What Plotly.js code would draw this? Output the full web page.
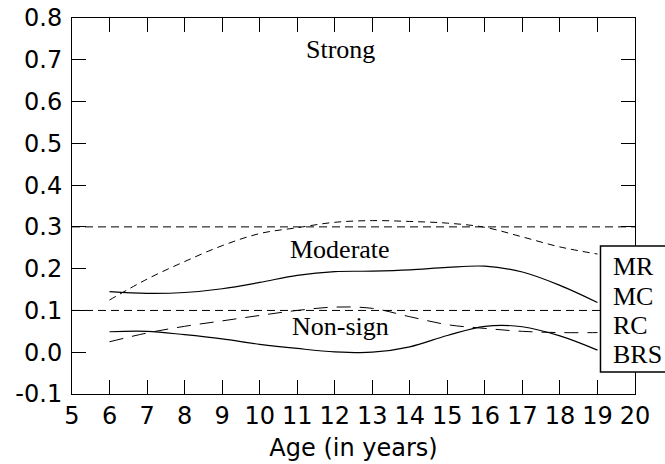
<!DOCTYPE html>
<html>
<head>
<meta charset="utf-8">
<script src="https://cdn.plot.ly/plotly-3.0.1.min.js"></script>
<style>html,body{margin:0;padding:0;background:#fff;}#chart{width:665px;height:464px;}</style>
</head>
<body>
<div id="chart"></div>
<script>
const ages = [6,7,8,9,10,11,12,13,14,15,16,17,18,19];
const MR  = [0.125,0.175,0.217,0.255,0.284,0.298,0.311,0.315,0.313,0.309,0.299,0.276,0.252,0.235];
const MC  = [0.145,0.141,0.143,0.152,0.167,0.184,0.193,0.194,0.197,0.203,0.206,0.192,0.160,0.119];
const RC  = [0.025,0.046,0.062,0.075,0.088,0.100,0.108,0.105,0.085,0.066,0.057,0.050,0.047,0.047];
const BRS = [0.049,0.050,0.042,0.032,0.019,0.009,0.001,0.000,0.013,0.040,0.062,0.061,0.039,0.005];
const thresholds = [0.3, 0.1];
const zoneLabels = ["Strong","Moderate","Non-sign"];
const zoneX = [12.15, 12.15, 12.15];
const zoneY = [0.724, 0.246, 0.062];
const seriesNames = ["MR","MC","RC","BRS"];
const xTicks = [5,6,7,8,9,10,11,12,13,14,15,16,17,18,19,20];
const yTickVals = [-0.1,0,0.1,0.2,0.3,0.4,0.5,0.6,0.7,0.8];
const yTickText = ["-0.1","0.0","0.1","0.2","0.3","0.4","0.5","0.6","0.7","0.8"];

const sans = "DejaVu Sans, Arial, sans-serif";
const serif = "Liberation Serif, Times New Roman, serif";

const styles = {
  MR:  {color:"#000", width:1, dash:"7px,5px"},
  MC:  {color:"#000", width:1.2, dash:"solid"},
  RC:  {color:"#000", width:1, dash:"14px,9px"},
  BRS: {color:"#000", width:1.2, dash:"solid"}
};
const seriesData = {MR, MC, RC, BRS};

const traces = seriesNames.map(n => ({
  x: ages, y: seriesData[n], type:"scatter", mode:"lines", name:n,
  line: Object.assign({shape:"spline", smoothing:1}, styles[n]),
  showlegend:false, hoverinfo:"skip"
}));
thresholds.forEach(t => traces.push({
  x:[5,20], y:[t,t], type:"scatter", mode:"lines", showlegend:false, hoverinfo:"skip",
  line:{color:"#000", width:1, dash:"8px,5px"}
}));

const annotations = zoneLabels.map((t,i) => ({
  x: zoneX[i], y: zoneY[i], xref:"x", yref:"y", text:t, showarrow:false,
  font:{family:serif, size:26, color:"#000"}
}));
const legStep = 0.078;
seriesNames.forEach((n,i) => annotations.push({
  x: 0.958, y: 0.338 - i*legStep, xref:"paper", yref:"paper", text:n, showarrow:false,
  xanchor:"left", yanchor:"middle", font:{family:serif, size:26, color:"#000"}
}));

const layout = {
  width:665, height:464,
  margin:{l:72, r:30, t:18, b:70},
  paper_bgcolor:"#fff", plot_bgcolor:"#fff",
  font:{family:sans, size:24, color:"#000"},
  xaxis:{
    range:[5,20], tickvals:xTicks, ticks:"inside", ticklen:14, tickwidth:1, tickcolor:"#000",
    showline:true, linecolor:"#000", linewidth:1, mirror:"ticks", showgrid:false, zeroline:false,
    tickfont:{family:sans, size:24},
    title:{text:"Age (in years)", font:{family:sans, size:24}, standoff:10}
  },
  yaxis:{
    range:[-0.1,0.8], tickvals:yTickVals, ticktext:yTickText, ticks:"inside", ticklen:14, tickwidth:1, tickcolor:"#000",
    showline:true, linecolor:"#000", linewidth:1, mirror:"ticks", showgrid:false, zeroline:false,
    tickfont:{family:sans, size:24}, ticklabelstandoff:4
  },
  shapes:[{
    type:"rect", xref:"paper", yref:"paper", x0:0.9387, x1:1.2, y0:0.0585, y1:0.3936,
    fillcolor:"#fff", line:{color:"#000", width:1.5}, layer:"above"
  }],
  annotations: annotations
};

Plotly.newPlot("chart", traces, layout, {staticPlot:true, displayModeBar:false});
</script>
</body>
</html>
